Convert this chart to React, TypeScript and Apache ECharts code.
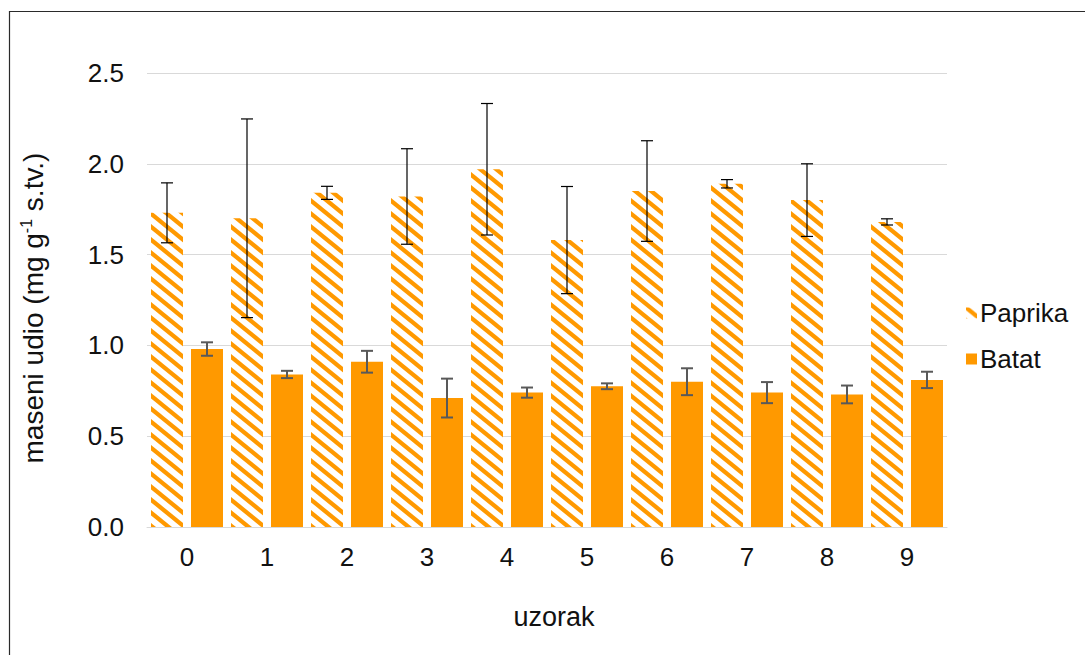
import React, { useEffect, useRef } from "react";
import * as echarts from "echarts";

const categories = ["0", "1", "2", "3", "4", "5", "6", "7", "8", "9"];
const paprikaMean = [1.73, 1.7, 1.84, 1.82, 1.97, 1.58, 1.85, 1.89, 1.8, 1.68];
const paprikaErr = [0.165, 0.547, 0.036, 0.263, 0.362, 0.295, 0.277, 0.023, 0.2, 0.017];
const batatMean = [0.98, 0.84, 0.91, 0.71, 0.74, 0.775, 0.8, 0.74, 0.73, 0.81];
const batatErr = [0.037, 0.02, 0.06, 0.107, 0.028, 0.016, 0.074, 0.058, 0.049, 0.045];
const seriesNames = ["Paprika", "Batat"];
const yTicks = { min: 0, max: 2.5, interval: 0.5 };

const ORANGE = "#FF9900";
const FONT = "'Liberation Sans', Arial, sans-serif";

function makeStripeTile() {
  const w = 16;
  const h = 13;
  const c = document.createElement("canvas");
  c.width = w;
  c.height = h;
  const ctx = c.getContext("2d")!;
  ctx.fillStyle = "#ffffff";
  ctx.fillRect(0, 0, w, h);
  ctx.strokeStyle = ORANGE;
  ctx.lineWidth = 4.2;
  for (const dx of [-w, 0, w]) {
    ctx.beginPath();
    ctx.moveTo(dx - w, -h);
    ctx.lineTo(dx + 2 * w, 2 * h);
    ctx.stroke();
  }
  return { image: c, repeat: "repeat", imageWidth: w, imageHeight: h };
}

function errRender(offsetFrac: number, color: string, width: number) {
  return (params: any, api: any) => {
    const idx = api.value(0);
    const lo = api.value(1);
    const hi = api.value(2);
    const band = api.size([1, 0])[0];
    const pLo = api.coord([idx, lo]);
    const pHi = api.coord([idx, hi]);
    const x = pLo[0] + band * offsetFrac;
    const hw = 6;
    const style = { stroke: color, lineWidth: width };
    return {
      type: "group",
      children: [
        { type: "line", shape: { x1: x, y1: pHi[1], x2: x, y2: pLo[1] }, style },
        { type: "line", shape: { x1: x - hw, y1: pHi[1], x2: x + hw, y2: pHi[1] }, style },
        { type: "line", shape: { x1: x - hw, y1: pLo[1], x2: x + hw, y2: pLo[1] }, style },
      ],
    };
  };
}

export default function App() {
  const ref = useRef<HTMLDivElement>(null);
  useEffect(() => {
    if (!ref.current) return;
    const chart = echarts.init(ref.current, undefined, { renderer: "svg" });
    const stripe = makeStripeTile();
    const paprikaErrData = paprikaMean.map((m, i) => [i, m - paprikaErr[i], m + paprikaErr[i]]);
    const batatErrData = batatMean.map((m, i) => [i, m - batatErr[i], m + batatErr[i]]);
    chart.setOption({
      animation: false,
      backgroundColor: "#ffffff",
      textStyle: { fontFamily: FONT },
      graphic: [
        {
          type: "rect",
          shape: { x: 9.5, y: 11.5, width: 1200, height: 800 },
          style: { fill: "none", stroke: "#2a2a2a", lineWidth: 1.2 },
          silent: true,
          z: 100,
        },
      ],
      grid: { left: 147, right: 138, top: 73, bottom: 128 },
      legend: {
        orient: "vertical",
        left: 961,
        top: 295,
        itemWidth: 11,
        itemHeight: 11,
        itemGap: 20,
        icon: "rect",
        textStyle: { fontSize: 26, color: "#111", fontFamily: FONT, padding: [0, 0, 0, -2] },
        data: seriesNames,
      },
      xAxis: {
        type: "category",
        data: categories,
        axisLine: { lineStyle: { color: "#d9d9d9", width: 1 } },
        axisTick: { show: false },
        axisLabel: { fontSize: 26, color: "#111", margin: 17, fontFamily: FONT },
        name: "uzorak",
        nameLocation: "middle",
        nameGap: 76,
        nameTextStyle: { fontSize: 27, color: "#111", fontFamily: FONT, padding: [0, 0, 0, 14] },
      },
      yAxis: {
        type: "value",
        min: yTicks.min,
        max: yTicks.max,
        interval: yTicks.interval,
        axisLine: { show: false },
        axisTick: { show: false },
        splitLine: { lineStyle: { color: "#d9d9d9", width: 1 } },
        axisLabel: {
          fontSize: 26,
          color: "#111",
          margin: 23,
          fontFamily: FONT,
          formatter: (v: number) => v.toFixed(1),
        },
        name: "maseni udio (mg g{sup|-1} s.tv.)",
        nameLocation: "middle",
        nameRotate: 90,
        nameGap: 99,
        nameTextStyle: {
          fontSize: 28,
          color: "#111",
          fontFamily: FONT,
          lineHeight: 30,
          padding: [0, 16, 0, 0],
          rich: {
            sup: { fontSize: 16, verticalAlign: "top", lineHeight: 16, color: "#111", fontFamily: FONT },
          },
        },
      },
      series: [
        {
          name: seriesNames[0],
          type: "bar",
          data: paprikaMean,
          barWidth: "40%",
          barGap: "25%",
          itemStyle: { color: stripe },
        },
        {
          name: seriesNames[1],
          type: "bar",
          data: batatMean,
          barWidth: "40%",
          barGap: "25%",
          itemStyle: { color: ORANGE },
        },
        {
          type: "custom",
          name: "paprikaErr",
          renderItem: errRender(-0.25, "#000000", 1.2),
          data: paprikaErrData,
          encode: { x: 0, y: [1, 2] },
          z: 5,
          silent: true,
        },
        {
          type: "custom",
          name: "batatErr",
          renderItem: errRender(0.25, "#595959", 2),
          data: batatErrData,
          encode: { x: 0, y: [1, 2] },
          z: 5,
          silent: true,
        },
      ],
    });
    return () => chart.dispose();
  }, []);
  return (
    <div
      ref={ref}
      style={{ position: "fixed", left: 0, top: 0, width: 1085, height: 655, background: "#fff" }}
    />
  );
}
